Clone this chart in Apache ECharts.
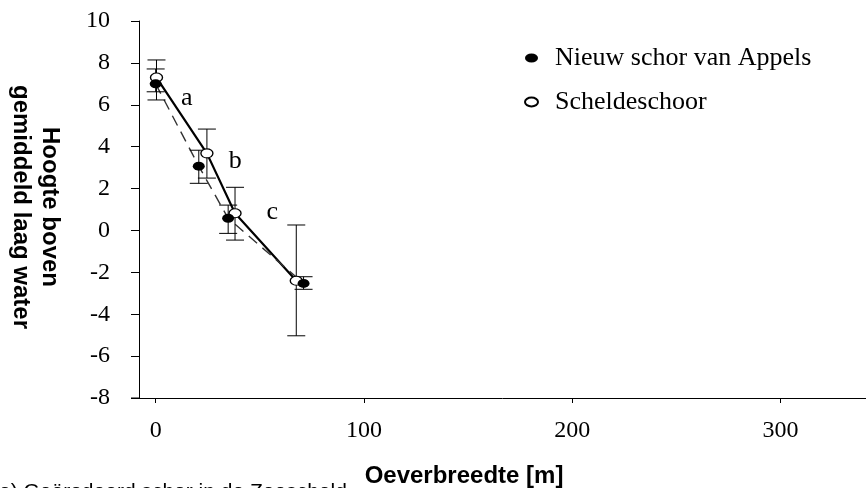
<!DOCTYPE html>
<html>
<head>
<meta charset="utf-8">
<script src="https://cdn.jsdelivr.net/npm/echarts@6/dist/echarts.min.js"></script>
<style>
html,body{margin:0;padding:0;background:#fff;}
#chart{width:866px;height:488px;}
</style>
</head>
<body>
<div id="chart"></div>
<script>
// Data
const seriesNames = ['Nieuw schor van Appels', 'Scheldeschoor'];
// Nieuw schor van Appels (filled markers, dashed line)
const appelsX = [0, 20.7, 34.8, 71];
const appelsY = [7.0, 3.07, 0.58, -2.53];
const appelsLow = [6.62, 2.25, -0.14, -2.81];
const appelsHigh = [7.71, 3.83, 1.21, -2.21];
// Scheldeschoor (open markers, solid line)
const scheldeX = [0.4, 24.6, 38.1, 67.5];
const scheldeY = [7.3, 3.68, 0.82, -2.4];
const scheldeLow = [6.23, 2.5, -0.46, -5.03];
const scheldeHigh = [8.14, 4.84, 2.06, 0.26];
// Annotation letters
const letterText = ['a', 'b', 'c'];
const letterX = [14.9, 38.2, 56.0];
const letterY = [6.31, 3.33, 0.89];
// Axis ticks
const xTicks = [0, 100, 200, 300];
const yMin = -8, yMax = 10, yStep = 2;
const xMin = -8, xMax = 341;

const ellipse = 'path://M0,4.5a6.5,4.5 0 1,0 13,0a6.5,4.5 0 1,0 -13,0z';
const serif = 'Liberation Serif';
const sans = 'Liberation Sans';

const zip = (xs, ys) => xs.map((x, i) => [x, ys[i]]);
const errData = (xs, lo, hi) => xs.map((x, i) => [x, lo[i], hi[i]]);

function errorBar(params, api) {
  const x = api.value(0), lo = api.value(1), hi = api.value(2);
  const p1 = api.coord([x, hi]);
  const p2 = api.coord([x, lo]);
  const w = 9;
  const st = { stroke: '#000', lineWidth: 1 };
  return {
    type: 'group',
    children: [
      { type: 'line', shape: { x1: p1[0], y1: p1[1], x2: p2[0], y2: p2[1] }, style: st },
      { type: 'line', shape: { x1: p1[0] - w, y1: p1[1], x2: p1[0] + w, y2: p1[1] }, style: st },
      { type: 'line', shape: { x1: p2[0] - w, y1: p2[1], x2: p2[0] + w, y2: p2[1] }, style: st }
    ]
  };
}

const chart = echarts.init(document.getElementById('chart'), null, { renderer: 'canvas' });
chart.setOption({
  backgroundColor: '#fff',
  animation: false,
  grid: { left: 139, right: 0, top: 21, bottom: 90, containLabel: false },
  legend: {
    data: [
      { name: seriesNames[0], icon: ellipse },
      { name: seriesNames[1], icon: ellipse }
    ],
    orient: 'vertical',
    left: 519,
    top: 40,
    itemWidth: 13,
    itemHeight: 9,
    itemGap: 18,
    textStyle: { fontFamily: serif, fontSize: 26, color: '#000', lineHeight: 25, padding: [0, 0, 0, 12] }
  },
  xAxis: {
    type: 'value',
    min: xMin,
    max: xMax,
    splitLine: { show: false },
    axisLine: { show: true, onZero: false, lineStyle: { color: '#000', width: 1 } },
    axisTick: { show: true, customValues: xTicks, length: 5, lineStyle: { color: '#000' } },
    axisLabel: { customValues: xTicks, margin: 21, fontFamily: serif, fontSize: 24, color: '#000' }
  },
  yAxis: {
    type: 'value',
    min: yMin,
    max: yMax,
    interval: yStep,
    splitLine: { show: false },
    axisLine: { show: true, onZero: false, lineStyle: { color: '#000', width: 1 } },
    axisTick: { show: true, length: 8, lineStyle: { color: '#000' } },
    axisLabel: { margin: 29, fontFamily: serif, fontSize: 24, color: '#000' }
  },
  graphic: [
    { type: 'line', shape: { x1: 131, y1: 398, x2: 139, y2: 398 }, style: { stroke: '#000', lineWidth: 1 } },
    {
      type: 'text', x: 35, y: 207, rotation: -Math.PI / 2,
      style: { text: 'Hoogte boven\ngemiddeld laag water', font: 'bold 24px ' + sans, fill: '#000',
        textAlign: 'center', textVerticalAlign: 'middle', lineHeight: 29 }
    },
    {
      type: 'text', x: 464, y: 476,
      style: { text: 'Oeverbreedte [m]', font: 'bold 24px ' + sans, fill: '#000', textAlign: 'center', textVerticalAlign: 'middle' }
    },
    {
      type: 'text', x: -1, y: 492,
      style: { text: 'e) Geërodeerd schor in de Zeescheld', font: '21px ' + sans, fill: '#000', textAlign: 'left', textVerticalAlign: 'middle' }
    }
  ],
  series: [
    {
      type: 'line', data: zip(scheldeX, scheldeY), showSymbol: false, silent: true,
      lineStyle: { color: '#000', width: 2.2 }, z: 2
    },
    {
      type: 'line', data: zip(appelsX, appelsY), showSymbol: false, silent: true,
      lineStyle: { color: '#333', width: 1.4, type: [11, 7] }, z: 2
    },
    {
      type: 'custom', renderItem: errorBar, data: errData(scheldeX, scheldeLow, scheldeHigh),
      encode: { x: 0, y: [1, 2] }, z: 3, silent: true
    },
    {
      type: 'custom', renderItem: errorBar, data: errData(appelsX, appelsLow, appelsHigh),
      encode: { x: 0, y: [1, 2] }, z: 3, silent: true
    },
    {
      name: seriesNames[1], type: 'scatter', data: zip(scheldeX, scheldeY),
      symbol: ellipse, symbolSize: [12, 9],
      itemStyle: { color: '#fff', borderColor: '#000', borderWidth: 1.2, opacity: 1 }, z: 4
    },
    {
      name: seriesNames[0], type: 'scatter', data: zip(appelsX, appelsY),
      symbol: ellipse, symbolSize: [12, 9],
      itemStyle: { color: '#000', opacity: 1 }, z: 5
    },
    {
      type: 'scatter', silent: true, symbolSize: 0,
      itemStyle: { opacity: 1 },
      data: letterX.map((x, i) => [x, letterY[i], letterText[i]]),
      label: { show: true, position: 'inside', formatter: p => p.value[2], fontFamily: serif, fontSize: 26, color: '#000', opacity: 1 },
      z: 6
    }
  ]
});
</script>
</body>
</html>
